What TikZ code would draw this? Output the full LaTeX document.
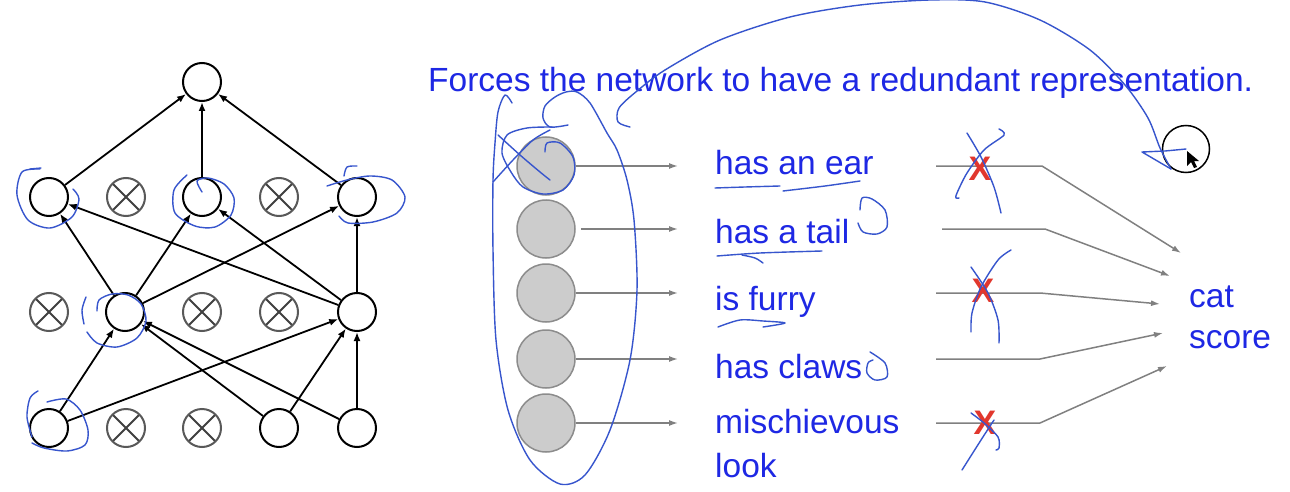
\documentclass[tikz,border=0pt]{standalone}
\usepackage{fontspec}
\setmainfont{Liberation Sans}
\usetikzlibrary{arrows.meta}
\definecolor{txtblue}{RGB}{30,40,228}
\definecolor{penblue}{RGB}{55,85,205}
\definecolor{xred}{RGB}{225,55,45}
\definecolor{unitgrey}{RGB}{204,204,204}
\definecolor{linegrey}{RGB}{128,128,128}
\begin{document}
\begin{tikzpicture}[x=1pt,y=-1pt,
 neuron/.style={circle,draw=black,line width=2pt,minimum size=38pt,inner sep=0pt},
 dropped/.style={circle,draw=black!65,line width=2pt,minimum size=38pt,inner sep=0pt,
   path picture={\draw[black!75,line width=2pt]
     (path picture bounding box.north west)--(path picture bounding box.south east)
     (path picture bounding box.north east)--(path picture bounding box.south west);}},
 conn/.style={line width=1.8pt,-{Latex[length=9pt,width=7pt]}},
 unit/.style={circle,fill=unitgrey,draw=black!45,line width=1.5pt,minimum size=58pt,inner sep=0pt},
 feat/.style={anchor=base west,inner sep=0pt,text=txtblue,font=\fontsize{33.5}{44}\selectfont},
 gline/.style={draw=linegrey,line width=1.5pt},
 garrow/.style={gline,-{Latex[length=9pt,width=6pt]}},
 pen/.style={draw=penblue,line width=1.4pt,line cap=round,line join=round},
 redx/.style={text=xred,font=\fontsize{34}{34}\selectfont\bfseries,inner sep=0pt}
]
\useasboundingbox (0,0) rectangle (1290,492);
\fill[white] (0,0) rectangle (1290,492);

% ---------------- left network ----------------
\node[neuron] (o) at (202,82) {};
\node[neuron] (h2a) at (49,197) {};
\node[dropped] (d2b) at (126,197) {};
\node[neuron] (h2c) at (202,197) {};
\node[dropped] (d2d) at (279,197) {};
\node[neuron] (h2e) at (357,197) {};
\node[dropped] (d1a) at (49,312) {};
\node[neuron] (h1b) at (125,312) {};
\node[dropped] (d1c) at (202,312) {};
\node[dropped] (d1d) at (279,312) {};
\node[neuron] (h1e) at (357,312) {};
\node[neuron] (ia) at (49,428) {};
\node[dropped] (db) at (126,428) {};
\node[dropped] (dc) at (202,428) {};
\node[neuron] (id) at (279,428) {};
\node[neuron] (ie) at (357,428) {};

\draw[conn] (h2a) -- (o);
\draw[conn] (h2c) -- (o);
\draw[conn] (h2e) -- (o);
\foreach \s in {h1b,h1e}{
  \foreach \t in {h2a,h2c,h2e}{\draw[conn] (\s) -- (\t);}}
\foreach \s in {ia,id,ie}{
  \foreach \t in {h1b,h1e}{\draw[conn] (\s) -- (\t);}}

% pen marks on network
\draw[pen] plot[smooth] coordinates {(40,169) (22,172) (17,195) (28,220) (50,228) (72,217) (79,199) (73,189)};
\draw[pen] (30,169) -- (41,168);
\draw[pen] plot[smooth] coordinates {(187,175) (174,190) (175,213) (195,226) (215,227) (231,215) (234,198) (224,184) (208,178) (197,181) (202,192)};
\draw[pen] plot[smooth] coordinates {(344,176) (347,167) (357,166)};
\draw[pen] plot[smooth] coordinates {(327,186) (347,180) (370,176) (392,180) (405,197) (397,213) (373,222) (348,223) (339,216)};
\draw[pen] plot[smooth] coordinates {(86,297) (82,310) (84,324)};
\draw[pen] plot[smooth] coordinates {(97,311) (99,300) (112,294) (128,295) (141,304) (146,321) (137,338) (117,347) (97,343) (87,332)};
\draw[pen] plot[smooth] coordinates {(38,391) (30,398) (27,417) (32,437)};
\draw[pen] plot[smooth] coordinates {(47,402) (66,399) (80,410) (88,430) (85,445) (67,451) (44,448) (32,443)};

% ---------------- right part ----------------
\node[feat] (title) at (428,92) {Forces the network to have a redundant representation.};

\node[unit] (u1) at (546,166) {};
\node[unit] (u2) at (546,229) {};
\node[unit] (u3) at (546,293) {};
\node[unit] (u4) at (546,359) {};
\node[unit] (u5) at (546,423) {};

\node[feat] (t1) at (715,174) {has an ear};
\node[feat] (t2) at (715,243) {has a tail};
\node[feat] (t3) at (715,310) {is furry};
\node[feat] (t4) at (715,378) {has claws};
\node[feat] (t5) at (715,433) {mischievous};
\node[feat] (t6) at (715,477) {look};

\coordinate (f1) at (678,166);
\coordinate (f2) at (678,229);
\coordinate (f3) at (678,293);
\coordinate (f4) at (678,359);
\coordinate (f5) at (678,423);
\draw[garrow] (u1) -- (f1);
\draw[garrow] ([xshift=5pt]u2.east) -- (f2);
\draw[garrow] (u3) -- (f3);
\draw[garrow] (u4) -- (f4);
\draw[garrow] (u5) -- (f5);

\node[feat] (cat) at (1189,307) {cat};
\node[feat] (score) at (1189,348) {score};

\coordinate (s1) at (936,166); \coordinate (m1) at (1042,166); \coordinate (c1) at (1181,253);
\coordinate (s2) at (942,229); \coordinate (m2) at (1045,229); \coordinate (c2) at (1170,276);
\coordinate (s3) at (936,293); \coordinate (m3) at (1040,293); \coordinate (c3) at (1160,304);
\coordinate (s4) at (936,359); \coordinate (m4) at (1040,359); \coordinate (c4) at (1163,333);
\coordinate (s5) at (936,423); \coordinate (m5) at (1040,423); \coordinate (c5) at (1167,366);
\foreach \i in {1,...,5}{\draw[garrow] (s\i) -- (m\i) -- (c\i);}

\node[redx] (x1) at (980,169) {X};
\node[redx] (x3) at (983,291) {X};
\node[redx] (x5) at (985,423) {X};

% cursor
\node[circle,draw=black,line width=1.5pt,minimum size=47pt,inner sep=0pt] (cursor) at (1186,149) {};
\fill[black] (1187,151) -- (1187,166) -- (1191,162) -- (1194,168) -- (1197,167) -- (1194,161) -- (1199,161) -- cycle;

% pen marks on right part
\draw[pen] plot[smooth] coordinates {(630,127) (618,122) (619,108) (637,91) (665,70) (720,40) (790,17) (860,5) (930,0) (985,2) (1040,20) (1090,50) (1125,85) (1148,118) (1160,148) (1171,169)};
\draw[pen] (1171,169) -- (1142,152) -- (1165,151) -- (1186,149);
% ellipse round the units
\draw[pen] plot[smooth] coordinates {(512,103) (505,95) (498,112) (495,143) (493,180) (493,250) (496,340) (508,410) (530,460) (560,484) (585,475) (610,430) (630,360) (637,290) (634,220) (627,180) (617,150) (607,133) (590,103) (577,92) (566,92) (555,97) (545,106) (543,118) (550,127) (568,125)};
% scribble over first unit
\draw[pen] plot[smooth] coordinates {(493,182) (513,160) (533,140) (550,130)};
\draw[pen] plot[smooth] coordinates {(498,135) (520,155) (540,172) (550,180)};
\draw[pen] plot[smooth] coordinates {(545,152) (547,143) (560,143) (573,157) (574,175) (563,190) (543,194) (523,187) (511,172) (502,153) (507,135) (527,128) (552,127)};
% underlines
\draw[pen] plot[smooth] coordinates {(715,188) (745,187) (780,186)};
\draw[pen] plot[smooth] coordinates {(783,191) (825,186) (860,181)};
\draw[pen] plot[smooth] coordinates {(717,256) (760,253) (822,251)};
\draw[pen] plot[smooth] coordinates {(742,255) (755,258) (763,263)};
\draw[pen] plot[smooth] coordinates {(718,327) (740,320) (763,321) (785,323) (763,327)};
% small loops
\draw[pen] plot[smooth] coordinates {(860,210) (862,198) (872,199) (885,210) (887,227) (877,234) (863,232) (858,223)};
\draw[pen] plot[smooth] coordinates {(873,360) (868,363) (867,373) (875,380) (887,377) (885,363) (870,352)};
% strokes over the red crosses
\draw[pen] plot[smooth] coordinates {(967,133) (981,157) (994,187) (1001,213)};
\draw[pen] plot[smooth] coordinates {(999,129) (1004,135) (984,150) (967,173) (957,193) (956,198) (959,198)};
\draw[pen] plot[smooth] coordinates {(971,267) (988,293) (998,320) (999,343)};
\draw[pen] plot[smooth] coordinates {(1011,250) (998,260) (981,287) (972,313) (971,332)};
\draw[pen] plot[smooth] coordinates {(971,413) (984,423) (998,437) (999,448) (996,450)};
\draw[pen] plot[smooth] coordinates {(994,420) (981,440) (962,470)};
\end{tikzpicture}
\end{document}
